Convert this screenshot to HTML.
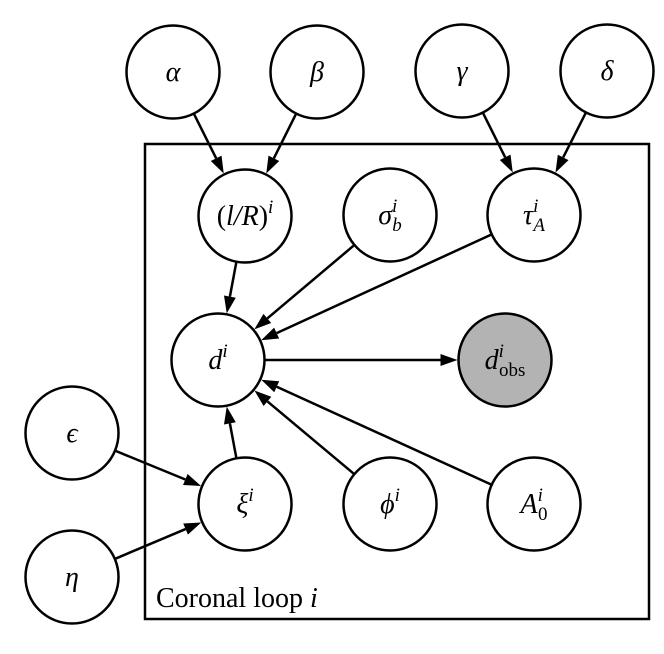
<!DOCTYPE html>
<html><head><meta charset="utf-8"><style>
body{margin:0;background:#fff}
svg text{font-family:"Liberation Serif",serif;font-style:italic}
</style></head><body>
<svg id="s" width="664" height="649" xmlns="http://www.w3.org/2000/svg">
<rect x="145" y="144" width="504" height="475" fill="none" stroke="#000" stroke-width="2.5"/>
<text x="156" y="607" font-size="28" style="font-style:normal">Coronal loop <tspan font-style="italic">i</tspan></text>
</svg>
<script>
var s=document.getElementById('s'),NS='http://www.w3.org/2000/svg',R=46.5;
var N={a:[173,72],b:[317,72],g:[462,71],dl:[607,71],lr:[245,216],sg:[390,215],t:[534,215],d:[218,360],o:[505,360],e:[72,433],h:[72,577],x:[245,504],p:[390,504],A:[534,504]};
function el(n,a){var e=document.createElementNS(NS,n);for(var k in a)e.setAttribute(k,a[k]);s.appendChild(e);return e;}
var E=[['a','lr'],['b','lr'],['g','t'],['dl','t'],['lr','d'],['sg','d'],['t','d'],['d','o'],['x','d'],['p','d'],['A','d'],['e','x'],['h','x']];
E.forEach(function(q){var a=N[q[0]],b=N[q[1]],dx=b[0]-a[0],dy=b[1]-a[1],L=Math.hypot(dx,dy),ux=dx/L,uy=dy/L;
var sx=a[0]+ux*R,sy=a[1]+uy*R,ex=b[0]-ux*(R+1),ey=b[1]-uy*(R+1),bx=ex-ux*17,by=ey-uy*17;
el('line',{x1:sx,y1:sy,x2:bx,y2:by,stroke:'#000','stroke-width':2.5});
el('polygon',{points:ex+','+ey+' '+(bx-uy*6)+','+(by+ux*6)+' '+(bx+uy*6)+','+(by-ux*6),fill:'#000'});});
var lab={a:'α',b:'β',g:'γ',dl:'δ',e:'ϵ',h:'η'};
for(var k in N){var c=N[k];el('circle',{cx:c[0],cy:c[1],r:R,fill:k=='o'?'#b3b3b3':'#fff',stroke:'#000','stroke-width':2.5});}
function T(x,y,html){var t=el('text',{x:x,y:y,'font-size':28,'text-anchor':'middle'});t.innerHTML=html;}
for(var k in lab)T(N[k][0],N[k][1]+9,lab[k]);
T(245,225,'<tspan style="font-style:normal">(</tspan>l/R<tspan style="font-style:normal">)</tspan><tspan font-size="19" dy="-12">i</tspan>');
T(390,224,'σ<tspan font-size="19" dy="-12">i</tspan><tspan font-size="19" dx="-5" dy="19">b</tspan>');
T(534,224,'τ<tspan font-size="19" dy="-12">i</tspan><tspan font-size="19" dx="-5" dy="19">A</tspan>');
T(218,369,'d<tspan font-size="19" dy="-12">i</tspan>');
T(505,369,'d<tspan font-size="19" dy="-12">i</tspan><tspan font-size="19" dx="-5" dy="19" style="font-style:normal">obs</tspan>');
T(245,513,'ξ<tspan font-size="19" dy="-12">i</tspan>');
T(390,513,'ϕ<tspan font-size="19" dy="-12">i</tspan>');
T(534,513,'A<tspan font-size="19" dy="-12">i</tspan><tspan font-size="19" dx="-5" dy="19" style="font-style:normal">0</tspan>');
</script>
</body></html>
